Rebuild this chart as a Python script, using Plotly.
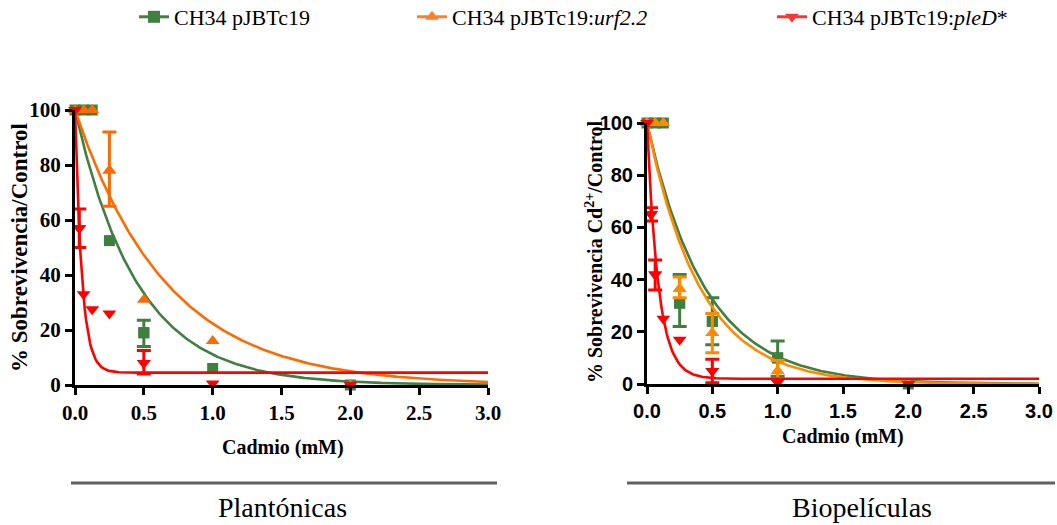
import numpy as np
import plotly.graph_objects as go

# ---------------- data ----------------
# Planktonic (left panel)
pl_x_green = [0, 0.0625, 0.125, 0.25, 0.5, 1.0, 2.0]
pl_y_green = [100, 100, 100, 52.5, 19, 6, 0]
pl_ep_green = [None, None, None, None, 4.5, None, None]
pl_em_green = [None, None, None, None, 5, None, None]

pl_x_orange = [0, 0.0625, 0.125, 0.25, 0.5, 1.0, 2.0]
pl_y_orange = [100, 100, 100, 78, 31, 16, 0]
pl_ep_orange = [None, None, None, 14, None, None, None]
pl_em_orange = [None, None, None, 13, None, None, None]

pl_x_red = [0, 0.03125, 0.0625, 0.125, 0.25, 0.5, 1.0, 2.0]
pl_y_red = [100, 57, 33, 27.5, 26, 8, 0.5, 0]
pl_ep_red = [None, 7, None, None, None, 4.5, None, None]
pl_em_red = [None, 7, None, None, None, 4, None, None]

# Biofilm (right panel)
bf_x_green = [0, 0.0625, 0.125, 0.25, 0.5, 1.0, 2.0]
bf_y_green = [100, 100, 100, 31, 24, 10, 0]
bf_ep_green = [None, None, None, 11, 9, 6.5, None]
bf_em_green = [None, None, None, 9, 9, 7, None]

bf_x_orange = [0, 0.0625, 0.125, 0.25, 0.5, 1.0, 2.0]
bf_y_orange = [100, 100, 100, 36.5, 19.5, 5, 0]
bf_ep_orange = [None, None, None, 4.5, 7.5, 4, None]
bf_em_orange = [None, None, None, 3.5, 7.5, 3, None]

bf_x_red = [0, 0.03125, 0.0625, 0.125, 0.25, 0.5, 1.0, 2.0]
bf_y_red = [100, 65, 42, 25, 17, 5, 0.5, 0]
bf_ep_red = [None, 2.5, 5.5, None, None, 4.5, None, None]
bf_em_red = [None, 2.5, 6, None, None, 4.5, None, None]

# one-phase exponential decay fits: (plateau, rate k)
pl_fit_green = (0.0, 2.2)
pl_fit_orange = (0.0, 1.5)
pl_fit_red = (4.5, 20.0)
bf_fit_green = (0.0, 2.25)
bf_fit_orange = (0.0, 2.45)
bf_fit_red = (2.0, 11.5)

legend_names = ["CH34 pJBTc19", "CH34 pJBTc19:<i>urf2.2</i>", "CH34 pJBTc19:<i>pleD</i>*"]
x_ticks = [0.0, 0.5, 1.0, 1.5, 2.0, 2.5, 3.0]
y_ticks = [0, 20, 40, 60, 80, 100]

# ---------------- style ----------------
W, H = 1057, 525
GREEN = "#3F7F3F"
ORANGE_L = "#FF6A00"
ORANGE_R = "#FF8A00"
RED = "#FF0000"
SERIF = "Liberation Serif"
SANS = "Liberation Sans"


def px(x):
    return x / W


def py(y):
    return 1 - y / H


fig = go.Figure()
xfit = np.linspace(0, 3, 301)


def add_series(xa, ya, xs, ys, ep, em, fit, color, symbol, size):
    plateau, k = fit
    yfit = plateau + (100 - plateau) * np.exp(-k * xfit)
    fig.add_trace(go.Scatter(x=xfit, y=yfit, mode="lines", xaxis=xa, yaxis=ya,
                             line=dict(color=color, width=2.6), showlegend=False,
                             hoverinfo="skip", cliponaxis=False))
    fig.add_trace(go.Scatter(x=xs, y=ys, mode="markers", xaxis=xa, yaxis=ya,
                             marker=dict(color=color, symbol=symbol, size=size),
                             showlegend=False, cliponaxis=False))
    idx = [i for i in range(len(xs)) if ep[i] is not None]
    if idx:
        fig.add_trace(go.Scatter(
            x=[xs[i] for i in idx], y=[ys[i] for i in idx], mode="markers",
            xaxis=xa, yaxis=ya,
            marker=dict(color=color, symbol=symbol, size=size),
            error_y=dict(type="data", symmetric=False,
                         array=[ep[i] for i in idx], arrayminus=[em[i] for i in idx],
                         color=color, thickness=3, width=7),
            showlegend=False, cliponaxis=False))


add_series("x", "y", pl_x_green, pl_y_green, pl_ep_green, pl_em_green, pl_fit_green, GREEN, "square", 11)
add_series("x", "y", pl_x_orange, pl_y_orange, pl_ep_orange, pl_em_orange, pl_fit_orange, ORANGE_L, "triangle-up", 12)
add_series("x", "y", pl_x_red, pl_y_red, pl_ep_red, pl_em_red, pl_fit_red, RED, "triangle-down", 12)

add_series("x2", "y2", bf_x_green, bf_y_green, bf_ep_green, bf_em_green, bf_fit_green, GREEN, "square", 11)
add_series("x2", "y2", bf_x_orange, bf_y_orange, bf_ep_orange, bf_em_orange, bf_fit_orange, ORANGE_R, "triangle-up", 12)
add_series("x2", "y2", bf_x_red, bf_y_red, bf_ep_red, bf_em_red, bf_fit_red, RED, "triangle-down", 12)

# legend entries
leg_colors = [GREEN, "#F7812F", "#F03A3A"]
leg_symbols = ["square", "triangle-up", "triangle-down"]
leg_keys = ["legend", "legend2", "legend3"]
for name, c, s, lk in zip(legend_names, leg_colors, leg_symbols, leg_keys):
    fig.add_trace(go.Scatter(x=[None], y=[None], mode="lines+markers", name=name,
                             line=dict(color=c, width=3), marker=dict(color=c, symbol=s, size=12),
                             legend=lk, xaxis="x", yaxis="y"))

leg_font = dict(family=SERIF, size=22, color="black")
leg_text_x = [172, 450, 810]
legends = {}
for lk, tx in zip(leg_keys, leg_text_x):
    legends[lk] = dict(x=px(tx - 38), xref="container", y=py(17), yref="container",
                       yanchor="middle", xanchor="left", font=leg_font,
                       bgcolor="rgba(0,0,0,0)", borderwidth=0)


def xaxis(domain, font):
    return dict(domain=domain, range=[0, 3], tickvals=x_ticks, tickformat=".1f",
                showline=True, linewidth=3, linecolor="black", ticks="outside",
                ticklen=7, tickwidth=3, tickcolor="black", showgrid=False,
                zeroline=False, tickfont=font, automargin=False, fixedrange=True)


def yaxis(domain, font, anchor):
    return dict(domain=domain, range=[0, 100], tickvals=y_ticks, anchor=anchor,
                showline=True, linewidth=3, linecolor="black", ticks="outside",
                ticklen=7, tickwidth=3, tickcolor="black", showgrid=False,
                zeroline=False, tickfont=font, automargin=False, fixedrange=True)


tf_left = dict(family=SERIF, size=21, color="black", weight="bold")
tf_right = dict(family=SANS, size=20, color="black", weight="bold")

fig.update_layout(
    width=W, height=H,
    margin=dict(l=0, r=0, t=0, b=0, autoexpand=False),
    paper_bgcolor="white", plot_bgcolor="white",
    xaxis=xaxis([px(75), px(488)], tf_left) | dict(anchor="y"),
    yaxis=yaxis([py(385), py(110)], tf_left, "x"),
    xaxis2=xaxis([px(647), px(1039)], tf_right) | dict(anchor="y2"),
    yaxis2=yaxis([py(384), py(123)], tf_right, "x2"),
    **legends,
)

annots = [
    dict(text="Cadmio (mM)", x=px(283), y=py(447),
         font=dict(family=SERIF, size=20, color="black", weight="bold")),
    dict(text="Cadmio (mM)", x=px(843), y=py(436),
         font=dict(family=SERIF, size=20, color="black", weight="bold")),
    dict(text="% Sobrevivencia/Control", x=px(20), y=py(248), textangle=-90,
         font=dict(family=SERIF, size=23, color="black", weight="bold")),
    dict(text="% Sobrevivencia Cd<sup>2+</sup>/Control", x=px(594), y=py(252), textangle=-90,
         font=dict(family=SERIF, size=20, color="black", weight="bold")),
    dict(text="Plantónicas", x=px(282), y=py(507), font=dict(family=SERIF, size=28, color="black")),
    dict(text="Biopelículas", x=px(862), y=py(507), font=dict(family=SERIF, size=28, color="black")),
]
for a in annots:
    fig.add_annotation(xref="paper", yref="paper", showarrow=False,
                       xanchor="center", yanchor="middle", **a)

for x0, x1 in [(71, 497), (627, 1055)]:
    fig.add_shape(type="line", xref="paper", yref="paper", x0=px(x0), x1=px(x1),
                  y0=py(483), y1=py(483), line=dict(color="#606060", width=3))

fig.write_html("out.html", config={"displayModeBar": False},
               post_script="document.body.style.margin='0';")
